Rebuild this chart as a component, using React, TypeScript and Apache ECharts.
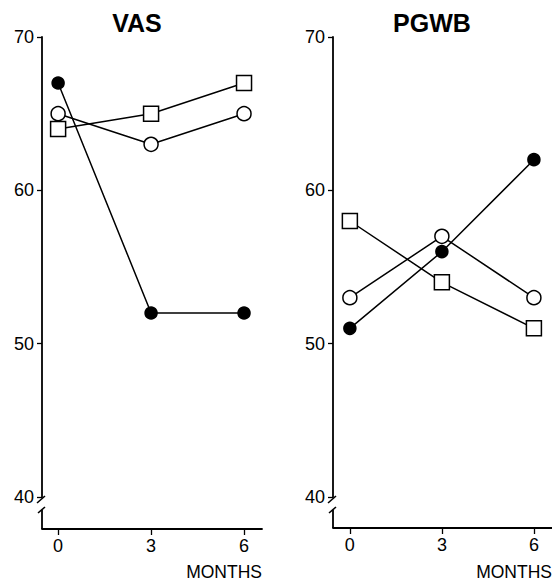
import React, { useEffect, useRef } from "react";
import * as echarts from "echarts";

const months = [0, 3, 6];
const yTicks = [40, 50, 60, 70];
const panelTitles = ["VAS", "PGWB"];
const xName = "MONTHS";

const vasFilled = [67, 52, 52];
const vasOpen = [65, 63, 65];
const vasSquare = [64, 65, 67];

const pgwbFilled = [51, 56, 62];
const pgwbOpen = [53, 57, 53];
const pgwbSquare = [58, 54, 51];

const FONT = "'Liberation Sans', Arial, Helvetica, sans-serif";

const GRID_TOP = 37;
const GRID_H = 460;
const panels = [
  { left: 42, width: 220, xmin: -0.52, xmax: 6.58, offset: 32, titleX: 137 },
  { left: 333, width: 219, xmin: -0.55, xmax: 6.59, offset: 31, titleX: 432 },
];

function pairs(vals: number[]) {
  return months.map((m, i) => [m, vals[i]]);
}

export default function App() {
  const ref = useRef<HTMLDivElement>(null);
  useEffect(() => {
    if (!ref.current) return;
    const chart = echarts.init(ref.current, null, { renderer: "svg" });
    const lineStyle = { color: "#000", width: 1.5 };
    const mk = (
      name: string,
      data: number[],
      idx: number,
      kind: "filled" | "open" | "square"
    ) => ({
      name,
      type: "line",
      xAxisIndex: idx,
      yAxisIndex: idx,
      data: pairs(data),
      symbol: kind === "square" ? "rect" : "circle",
      symbolSize: kind === "square" ? 15 : kind === "filled" ? 12 : 14,
      lineStyle,
      itemStyle: {
        color: kind === "filled" ? "#000" : "#fff",
        borderColor: "#000",
        borderWidth: 1.5,
      },
      showSymbol: true,
      z: 3,
    });

    const grids = panels.map((p) => ({
      left: p.left,
      top: GRID_TOP,
      width: p.width,
      height: GRID_H,
    }));

    const xAxes = panels.map((p, i) => ({
      type: "value",
      gridIndex: i,
      min: p.xmin,
      max: p.xmax,
      position: "bottom",
      offset: p.offset,
      axisLine: { show: true, onZero: false, lineStyle: { color: "#000", width: 1.8 } },
      axisTick: {
        show: true,
        length: 6,
        lineStyle: { color: "#000", width: 1.3 },
        customValues: months,
      },
      axisLabel: {
        show: true,
        margin: 8,
        color: "#000",
        fontSize: 18,
        fontFamily: FONT,
        customValues: months,
      },
      splitLine: { show: false },
    }));

    const yAxes = panels.map((p, i) => ({
      type: "value",
      gridIndex: i,
      min: yTicks[0],
      max: yTicks[yTicks.length - 1],
      interval: 10,
      position: "left",
      axisLine: { show: true, onZero: false, lineStyle: { color: "#000", width: 1.8 } },
      axisTick: {
        show: true,
        inside: false,
        length: 5,
        lineStyle: { color: "#000", width: 1.3 },
      },
      axisLabel: {
        show: true,
        margin: 8,
        color: "#000",
        fontSize: 18,
        fontFamily: FONT,
      },
      splitLine: { show: false },
    }));

    const graphics: any[] = [];
    panels.forEach((p, i) => {
      const ax = p.left;
      const yb = GRID_TOP + GRID_H;
      const xLine = yb + p.offset;
      const ls = { stroke: "#000", lineWidth: 1.6 };
      graphics.push(
        {
          type: "line",
          shape: { x1: ax + 3, y1: yb - 1, x2: ax - 5, y2: yb + 6 },
          style: ls,
        },
        {
          type: "line",
          shape: { x1: ax + 3, y1: yb + 10, x2: ax - 4, y2: yb + 16 },
          style: ls,
        },
        {
          type: "line",
          shape: { x1: ax, y1: yb + 13, x2: ax, y2: xLine },
          style: { stroke: "#000", lineWidth: 1.8 },
        },
        {
          type: "text",
          style: {
            text: panelTitles[i],
            x: p.titleX,
            y: 23,
            textAlign: "center",
            textVerticalAlign: "middle",
            font: `bold 25px ${FONT}`,
            fill: "#000",
          },
        },
        {
          type: "text",
          style: {
            text: xName,
            x: p.left + p.width,
            y: 572,
            textAlign: "right",
            textVerticalAlign: "middle",
            font: `17.5px ${FONT}`,
            fill: "#000",
          },
        }
      );
    });

    chart.setOption({
      animation: false,
      backgroundColor: "#fff",
      grid: grids,
      xAxis: xAxes,
      yAxis: yAxes,
      graphic: graphics,
      series: [
        mk("VAS open", vasOpen, 0, "open"),
        mk("VAS square", vasSquare, 0, "square"),
        mk("VAS filled", vasFilled, 0, "filled"),
        mk("PGWB open", pgwbOpen, 1, "open"),
        mk("PGWB square", pgwbSquare, 1, "square"),
        mk("PGWB filled", pgwbFilled, 1, "filled"),
      ],
    });
    return () => chart.dispose();
  }, []);
  return (
    <div
      ref={ref}
      style={{ position: "absolute", left: 0, top: 0, width: 552, height: 581 }}
    />
  );
}
